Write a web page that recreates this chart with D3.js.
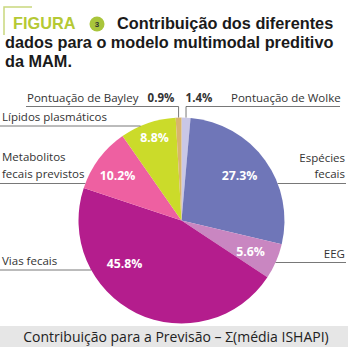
<!DOCTYPE html>
<html>
<head>
<meta charset="utf-8">
<script src="https://cdn.jsdelivr.net/npm/d3@7"></script>
<style>
  body { margin: 0; background: #fff; }
  svg { display: block; }
</style>
</head>
<body>
<div id="chart"></div>
<script>
(function () {
    // dados (ordem no sentido horário a partir do topo)
    const categories = ["Pontuação de Wolke", "Espécies fecais", "EEG", "Vias fecais",
        "Metabolitos fecais previstos", "Lípidos plasmáticos", "Pontuação de Bayley"];
    const values = [1.4, 27.3, 5.6, 45.8, 10.2, 8.8, 0.9];
    const colors = ["#c9c7e6", "#6f76b8", "#c986c1", "#b41d8d", "#ee60a1", "#cbdb2a", "#d8b46c"];

    const width = 361, height = 351;
    const cx = 181.5, cy = 220.5, r = 103;

    const svg = d3.select("#chart").append("svg")
        .attr("width", width).attr("height", height);

    // cabeçalho
    svg.append("path")
        .attr("d", "M4,35V7H32")
        .attr("fill", "none").attr("stroke", "#c9d77e").attr("stroke-width", 1.5);

    const title = svg.append("g").attr("font-family", "Liberation Sans, Arial, sans-serif")
        .attr("font-weight", "bold").attr("font-size", 16.3);
    title.append("text").attr("x", 13).attr("y", 29).attr("fill", "#b5c934").text("FIGURA");
    svg.append("circle").attr("cx", 97).attr("cy", 24).attr("r", 7.5).attr("fill", "#a9c53b");
    svg.append("text").attr("x", 97).attr("y", 27).attr("text-anchor", "middle")
        .attr("font-family", "Liberation Sans, Arial, sans-serif").attr("font-weight", "bold")
        .attr("font-size", 8).attr("fill", "#333").text("3");
    title.append("text").attr("x", 117).attr("y", 29).attr("fill", "#1a1a1a").text("Contribuição dos diferentes");
    title.append("text").attr("x", 5).attr("y", 48).attr("fill", "#1a1a1a").text("dados para o modelo multimodal preditivo");
    title.append("text").attr("x", 5).attr("y", 67).attr("fill", "#1a1a1a").text("da MAM.");

    const pie = d3.pie().value(d => d).sort(null);
    const arc = d3.arc().innerRadius(0).outerRadius(r);
    const arcs = pie(values);

    const g = svg.append("g").attr("transform", `translate(${cx},${cy})`);
    g.selectAll("path").data(arcs).enter().append("path")
        .attr("d", arc)
        .attr("fill", (d, i) => colors[i]);

    // rótulos internos
    const innerPos = { 1: [58, -45], 2: [69, 31], 3: [-57, 43], 4: [-64, -45], 5: [-27, -83] };
    g.selectAll("text.pct").data(arcs.filter((d, i) => innerPos[i])).enter().append("text")
        .attr("class", "pct")
        .attr("x", d => innerPos[d.index][0])
        .attr("y", d => innerPos[d.index][1])
        .attr("text-anchor", "middle").attr("dy", "0.35em")
        .attr("font-family", "Open Sans, sans-serif").attr("font-weight", "bold")
        .attr("font-size", 12.3).attr("fill", "#fff")
        .text(d => d.data.toFixed(1) + "%");

    const lab = svg.append("g").attr("font-family", "Open Sans, sans-serif")
        .attr("font-size", 11.5).attr("fill", "#333");
    const lineCol = "#555";

    function edgeX(y, side) { return cx + side * Math.sqrt(r * r - (y - cy) * (y - cy)); }

    // linhas horizontais até a borda da pizza
    const hLines = [
        { i: 5, y: 126, x0: 0, side: -1, lines: ["Lípidos plasmáticos"], tx: 2, ty: [121] },
        { i: 4, y: 183.5, x0: 0, side: -1, lines: ["Metabolitos", "fecais previstos"], tx: 2, ty: [161, 178] },
        { i: 3, y: 270, x0: 0, side: -1, lines: ["Vias fecais"], tx: 2, ty: [265] },
        { i: 1, y: 183.5, x0: 346, side: 1, lines: ["Espécies", "fecais"], tx: 345, ty: [162, 178] },
        { i: 2, y: 262.5, x0: 346, side: 1, lines: ["EEG"], tx: 345, ty: [258] }
    ];
    hLines.forEach(h => {
        svg.append("line").attr("x1", h.x0).attr("x2", edgeX(h.y, h.side))
            .attr("y1", h.y).attr("y2", h.y).attr("stroke", lineCol).attr("stroke-width", 0.8);
        h.lines.forEach((t, k) => lab.append("text").attr("x", h.tx).attr("y", h.ty[k])
            .attr("text-anchor", h.side < 0 ? "start" : "end").text(t));
    });

    // linhas verticais para as fatias pequenas
    const vLines = [
        { i: 6, y: 106.5, xEnd: 26, label: categories[6], lx: 27, px: 161 },
        { i: 0, y: 106.5, xEnd: 340, label: categories[0], lx: 231, px: 199 }
    ];
    vLines.forEach(v => {
        const a = (arcs[v.i].startAngle + arcs[v.i].endAngle) / 2;
        const x = cx + r * Math.sin(a), y = cy - r * Math.cos(a);
        svg.append("polyline")
            .attr("points", `${x},${y} ${x},${v.y} ${v.xEnd},${v.y}`)
            .attr("fill", "none").attr("stroke", lineCol).attr("stroke-width", 0.8);
        lab.append("text").attr("x", v.lx).attr("y", 102).text(v.label);
        lab.append("text").attr("x", v.px).attr("y", 102).attr("text-anchor", "middle")
            .attr("font-weight", "bold").text(values[v.i].toFixed(1) + "%");
    });

    // barra inferior
    svg.append("rect").attr("x", 0).attr("y", 326).attr("width", 348).attr("height", 21)
        .attr("fill", "#e6e6e6");
    svg.append("text").attr("x", 176).attr("y", 342).attr("text-anchor", "middle")
        .attr("font-family", "Open Sans, sans-serif").attr("font-size", 14)
        .attr("fill", "#222").text("Contribuição para a Previsão – Σ(média ISHAPI)");
})();
</script>
</body>
</html>
